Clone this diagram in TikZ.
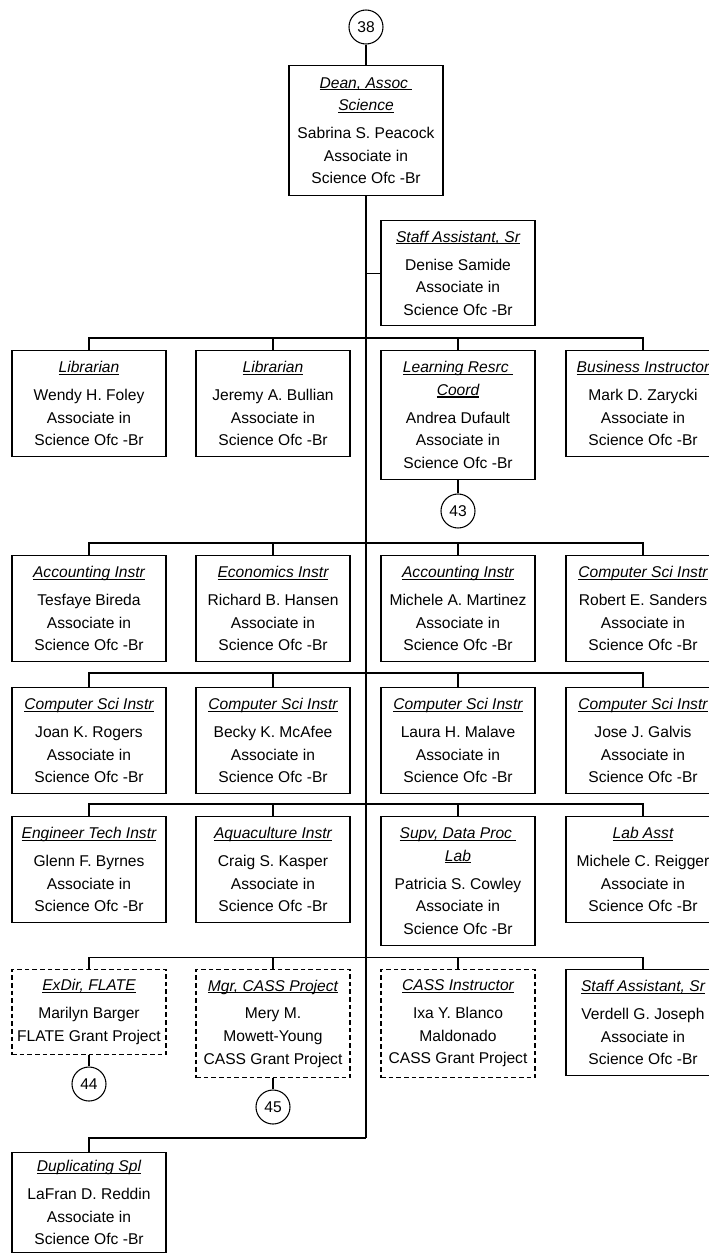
\documentclass[tikz,border=0pt]{standalone}
\usepackage{fontspec}
\setmainfont{Liberation Sans}

% italic title with a flat underline
\newcommand{\ttl}[1]{\setbox0\hbox{\itshape #1}\rlap{\rule[-1.6pt]{\wd0}{0.8pt}}\box0}
\newcommand{\ofc}{Associate in\\Science Ofc -Br}

\begin{document}
\begin{tikzpicture}[x=0.75pt, y=-0.75pt, line width=0.8pt,
	box/.style={draw, rectangle, anchor=north, align=center, minimum width=115.5pt,
		minimum height=79.5pt, inner sep=2pt, font=\fontsize{11.7}{16.9}\selectfont},
	tall/.style={minimum height=96.75pt},
	grant/.style={box, dash pattern=on 3.5pt off 2.25pt},
	conn/.style={draw, circle, minimum size=25.5pt, inner sep=0pt, font=\fontsize{11.7}{13}\selectfont}]
	\useasboundingbox (0,0) rectangle (709,1253);
	\def\ca{89}
	\def\cb{273}
	\def\cc{458}
	\def\cd{643}
	\def\tx{366}
	
	% head
	\node[conn] (c38) at (\tx,27) {38};
	\node[box, minimum height=97.5pt] (dean) at (\tx,65) {\ttl{Dean, Assoc\ }\\\ttl{Science}\\[4pt]Sabrina S. Peacock\\\ofc};
	\node[box, minimum height=78.75pt] (sa1) at (\cc,220) {\ttl{Staff Assistant, Sr}\\[4pt]Denise Samide\\\ofc};
	
	% row 1
	\node[box] (lib1) at (\ca,350) {\ttl{Librarian}\\[4pt]Wendy H. Foley\\\ofc};
	\node[box] (lib2) at (\cb,350) {\ttl{Librarian}\\[4pt]Jeremy A. Bullian\\\ofc};
	\node[box, tall] (lrc) at (\cc,350) {\ttl{Learning Resrc\ }\\\ttl{Coord}\\[4pt]Andrea Dufault\\\ofc};
	\node[box] (bi) at (\cd,350) {\ttl{Business Instructor}\\[4pt]Mark D. Zarycki\\\ofc};
	\node[conn] (c43) at (\cc,511) {43};
	
	% row 2
	\node[box] (acc1) at (\ca,555) {\ttl{Accounting Instr}\\[4pt]Tesfaye Bireda\\\ofc};
	\node[box] (eco) at (\cb,555) {\ttl{Economics Instr}\\[4pt]Richard B. Hansen\\\ofc};
	\node[box] (acc2) at (\cc,555) {\ttl{Accounting Instr}\\[4pt]Michele A. Martinez\\\ofc};
	\node[box] (cs1) at (\cd,555) {\ttl{Computer Sci Instr}\\[4pt]Robert E. Sanders\\\ofc};
	
	% row 3
	\node[box] (cs2) at (\ca,687) {\ttl{Computer Sci Instr}\\[4pt]Joan K. Rogers\\\ofc};
	\node[box] (cs3) at (\cb,687) {\ttl{Computer Sci Instr}\\[4pt]Becky K. McAfee\\\ofc};
	\node[box] (cs4) at (\cc,687) {\ttl{Computer Sci Instr}\\[4pt]Laura H. Malave\\\ofc};
	\node[box] (cs5) at (\cd,687) {\ttl{Computer Sci Instr}\\[4pt]Jose J. Galvis\\\ofc};
	
	% row 4
	\node[box] (eng) at (\ca,816) {\ttl{Engineer Tech Instr}\\[4pt]Glenn F. Byrnes\\\ofc};
	\node[box] (aqu) at (\cb,816) {\ttl{Aquaculture Instr}\\[4pt]Craig S. Kasper\\\ofc};
	\node[box, tall] (sup) at (\cc,816) {\ttl{Supv, Data Proc\ }\\\ttl{Lab}\\[4pt]Patricia S. Cowley\\\ofc};
	\node[box] (lab) at (\cd,816) {\ttl{Lab Asst}\\[4pt]Michele C. Reigger\\\ofc};
	
	% row 5
	\node[grant, minimum height=63.75pt] (exd) at (\ca,969) {\ttl{ExDir, FLATE}\\[4pt]Marilyn Barger\\FLATE Grant Project};
	\node[grant, minimum height=81pt] (mgr) at (\cb,969) {\ttl{Mgr, CASS Project}\\[4pt]Mery M.\\Mowett-Young\\CASS Grant Project};
	\node[grant, minimum height=81pt] (cass) at (\cc,969) {\ttl{CASS Instructor}\\[4pt]Ixa Y. Blanco\\Maldonado\\CASS Grant Project};
	\node[box] (sa2) at (\cd,969) {\ttl{Staff Assistant, Sr}\\[4pt]Verdell G. Joseph\\\ofc};
	\node[conn] (c44) at (\ca,1084) {44};
	\node[conn] (c45) at (\cb,1107) {45};
	
	% row 6
	\node[box, minimum height=75pt] (dup) at (\ca,1152) {\ttl{Duplicating Spl}\\[4pt]LaFran D. Reddin\\\ofc};
	
	\coordinate (b1) at (\tx,338);
	\coordinate (b2) at (\tx,543);
	\coordinate (b3) at (\tx,673);
	\coordinate (b4) at (\tx,804);
	\coordinate (b5) at (\tx,957.5);
	\coordinate (b6) at (\tx,1138);
	
	\draw (c38) -- (dean);
	\draw (dean.south) -- (b6);
	\draw (sa1.west) -- (sa1.west -| dean.south);
	\foreach \r/\a/\b/\c/\d in {b1/lib1/lib2/lrc/bi, b2/acc1/eco/acc2/cs1, b3/cs2/cs3/cs4/cs5, b4/eng/aqu/sup/lab, b5/exd/mgr/cass/sa2} {
		\draw (\a.north) |- (\r) -| (\d.north);
		\draw (\b.north) |- (\r) (\c.north) |- (\r);
	}
	\draw (dup.north) |- (b6);
	\draw (lrc) -- (c43) (exd) -- (c44) (mgr) -- (c45);
\end{tikzpicture}
\end{document}
